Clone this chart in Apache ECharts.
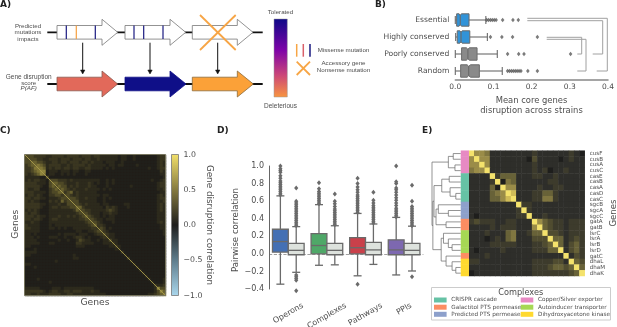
<!DOCTYPE html>
<html><head><meta charset="utf-8">
<style>html,body{margin:0;padding:0;background:#fff}#c{width:617px;height:327px}</style>
<script src="https://cdn.jsdelivr.net/npm/echarts@6/dist/echarts.min.js"></script>
</head><body><div id="c"></div>
<script>
const DJ='"DejaVu Sans"', LS='"Liberation Sans"', TXT='#4d4d4d', LINE='#6a6a6a';

// Panel B
const bCategories=['Essential','Highly conserved','Poorly conserved','Random'];
const bLow=[0,0.001,0,0];
const bQ1=[0.0035,0.005,0.0165,0.014];
const bNotchLo=[0.01,0.012,0.029,0.031];
const bMedian=[0.013,0.015,0.033,0.035];
const bNotchHi=[0.016,0.018,0.037,0.04];
const bQ3=[0.036,0.038,0.057,0.063];
const bHigh=[0.08,0.084,0.11,0.123];
const bColors=['#3193d8','#3193d8','#8a8a8a','#8a8a8a'];
const bFliers=[
 [0.082,0.087,0.092,0.097,0.102,0.107,0.124,0.151,0.165],
 [0.092,0.122,0.15,0.215],
 [0.137,0.166,0.18,0.302],
 [0.137,0.142,0.147,0.152,0.157,0.162,0.167,0.172,0.19,0.215]];

// Panel C, digits are correlation levels (upper triangle)
const cRows=[
"4443333223 3332333323 3323322222 2122112111 1111233",
".444332233 3233323332 3322322222 2122112111 1111233",
"..55443223 3233233323 3232221222 1121111111 1111232",
"...5654233 3322323333 2322222122 1221111211 1111232",
"....665232 3323323322 3322221212 1111111111 1211233",
".....77122 2122212211 2211111111 1111111111 1111132",
"......6122 1121212111 2111111111 1111111111 1111122",
".......411 1111111111 1111111111 1111111111 1111112",
"........44 4333232222 2222211212 1111111111 1121123",
".........5 5443222322 2321211212 1111111111 1111233",
".......... 4544232322 2322111211 1111121111 1111233",
".......... .454323222 3222212121 1111111111 1111223",
".......... ..53452322 2222111111 1111111111 1111122",
".......... ...4432322 2222212211 1111111111 1111232",
".......... ....444322 3222112121 1111111111 1111233",
".......... .....44422 2222112111 1111111111 1111223",
".......... ......4432 3222212211 1112211111 1111232",
".......... .......553 2222221323 2111211111 1111232",
".......... ........44 3322222343 2111111111 1111232",
".......... .........4 4322212232 2111111111 1111222",
".......... .......... 5432212122 1111111111 1111222",
".......... .......... .443221222 1111111111 1111222",
".......... .......... ..44321112 1111111111 1111232",
".......... .......... ...5332111 1111111111 1111122",
".......... .......... ....343121 1111111111 1111122",
".......... .......... .....43211 1111111111 1111112",
".......... .......... ......4322 1111111111 1111112",
".......... .......... .......322 1111111111 1111111",
".......... .......... ........42 2111111111 1111111",
".......... .......... .........3 2111111111 1111111",
".......... .......... .......... 3211111111 1111111",
".......... .......... .......... .211111111 1111111",
".......... .......... .......... ..31111111 1111111",
".......... .......... .......... ...2111111 1111111",
".......... .......... .......... ....311111 1111111",
".......... .......... .......... .....21111 1111111",
".......... .......... .......... ......2111 1111111",
".......... .......... .......... .......211 1111111",
".......... .......... .......... ........21 1111111",
".......... .......... .......... .........2 1111111",
".......... .......... .......... .......... 2111111",
".......... .......... .......... .......... .211112",
".......... .......... .......... .......... ..21112",
".......... .......... .......... .......... ...3223",
".......... .......... .......... .......... ....744",
".......... .......... .......... .......... .....75",
".......... .......... .......... .......... ......6"];
const cDiagonal=[1,1];

// Panel D
const dCategories=['Operons','Complexes','Pathways','PPIs'];
const dColors=['#4470b4','#4fa868','#c9404a','#7d68b0','#dde2dd'];
const dColoredLow=[-0.345,-0.13,-0.25,-0.24];
const dColoredQ1=[0.02,0,0,-0.01];
const dColoredMed=[0.14,0.095,0.07,0.045];
const dColoredQ3=[0.28,0.23,0.185,0.16];
const dColoredHigh=[0.66,0.56,0.46,0.415];
const dGreyLow=[-0.21,-0.125,-0.12,-0.195];
const dGreyQ1=[-0.01,-0.01,-0.01,-0.01];
const dGreyMed=[0.04,0.04,0.045,0.04];
const dGreyQ3=[0.12,0.12,0.13,0.12];
const dGreyHigh=[0.31,0.32,0.34,0.315];
const dColoredFliers=[
 [0.67,0.69,0.71,0.73,0.75,0.77,0.79,0.81,0.83,0.86,0.89,0.93,0.95,0.97,1.0],
 [0.57,0.59,0.61,0.63,0.65,0.67,0.69,0.71,0.74,0.81],
 [0.47,0.49,0.51,0.53,0.55,0.57,0.59,0.61,0.63,0.65,0.67,0.7,0.73,0.76,0.8,0.86,-0.345],
 [0.42,0.44,0.46,0.48,0.5,0.52,0.55,0.58,0.61,0.64,0.67,0.7,0.73,0.75,0.8,0.82,1.0]];
const dGreyFliers=[
 [0.32,0.34,0.36,0.38,0.4,0.42,0.44,0.46,0.48,0.5,0.52,0.54,0.56,0.58,0.6,0.75,-0.24,-0.26,-0.28,-0.3,-0.42],
 [0.33,0.35,0.37,0.39,0.41,0.43,0.45,0.47,0.49,0.51,0.54,0.57,0.6,0.68],
 [0.35,0.37,0.39,0.41,0.43,0.45,0.47,0.49,0.51,0.53,0.55,0.58,0.61,0.7],
 [0.32,0.34,0.36,0.38,0.4,0.42,0.44,0.46,0.48,0.5,0.52,0.54,0.6,0.78,-0.26]];

// Panel E
const eGenes=['cusF','cusB','cusA','cusC','casE','casB','casA','casD','casC','sgcB','sgcA','sgcC','gatA','gatB','lsrC','lsrA','lsrB','lsrD','gatC','dhaL','dhaM','dhaK'];
const eRows=[
"9665111111112111111210",
".966111111103111101211",
"..96111111112111111111",
"...9111111112120112111",
"....924441112211211111",
".....90541111112211111",
"......9661111211221111",
".......981112244211111",
"........91112255211111",
".........9221111111111",
"..........921111111111",
"...........91121111111",
"............9643221222",
".............943221222",
"..............93321222",
"...............9441232",
"................941342",
".................91342",
"..................9132",
"...................943",
"....................94",
".....................9"];
const eComplex=[3,3,3,3,0,0,0,0,0,2,2,2,1,1,4,4,4,4,1,5,5,5];
const eComplexNames=['CRISPR cascade','Galactitol PTS permease','Predicted PTS permease','Copper/Silver exporter','Autoinducer transporter','Dihydroxyacetone kinase'];
const eComplexColors=['#66c2a5','#fc8d62','#8da0cb','#e78ac3','#a6d854','#ffd92f'];
const eMerges=[[0,1,.26],[2,3,.2],[22,23,.43],[4,5,.4],[7,8,.17],[6,26,.37],[25,27,.66],[10,11,.43],[9,29,.78],[12,13,.51],[30,31,.86],[28,32,.93],[16,17,.3],[15,34,.43],[14,35,.6],[20,21,.17],[19,37,.3],[18,38,.51],[36,39,.68],[33,40,.97],[24,41,1]];

const fix=v=>v.toFixed(1).replace('-','\u2212');

// build data
const parseUpper=rows=>{
  const m=rows.map(r=>r.replace(/ /g,''));const out=[];const n=m.length;
  for(let i=0;i<n;i++)for(let j=0;j<n;j++){
    const a=Math.min(i,j),b=Math.max(i,j);out.push([j,i,+m[a][b]]);
  }return out;};
const cData=parseUpper(cRows), eData=parseUpper(eRows);
const cIdx=cRows.map((_,i)=>String(i));
const bBoxData=bCategories.map((_,i)=>[i,bLow[i],bQ1[i],bNotchLo[i],bMedian[i],bNotchHi[i],bQ3[i],bHigh[i]]);
const bFlierData=[];bFliers.forEach((a,i)=>a.forEach(v=>bFlierData.push([v,i])));
const dBoxData=[];dCategories.forEach((_,i)=>{
  dBoxData.push([i,0,dColoredLow[i],dColoredQ1[i],dColoredMed[i],dColoredQ3[i],dColoredHigh[i]]);
  dBoxData.push([i,1,dGreyLow[i],dGreyQ1[i],dGreyMed[i],dGreyQ3[i],dGreyHigh[i]]);
});
const dFlierData=[];
dColoredFliers.forEach((a,i)=>a.forEach(v=>dFlierData.push([i,0,v])));
dGreyFliers.forEach((a,i)=>a.forEach(v=>dFlierData.push([i,1,v])));
const dNodes=eGenes.map((_,i)=>({y:i+.5,h:0}));
const dLinks=eMerges.map(([a,b,h])=>{
  const A=dNodes[a],B=dNodes[b];dNodes.push({y:(A.y+B.y)/2,h});
  return [A.h,A.y,h,B.y,B.h];
});

const hideCat=(gi,data,extra)=>Object.assign({type:'category',gridIndex:gi,data,show:false},extra||{});
const lineStyle={stroke:LINE,lineWidth:1.1};
const measure=document.createElement('canvas').getContext('2d');

// Panel A schematic helpers
const gfx=[];
const poly=(pts,fill,stroke,lw)=>gfx.push({type:'polygon',shape:{points:pts},style:{fill,stroke,lineWidth:lw||1}});
const seg=(x1,y1,x2,y2,stroke,lw)=>gfx.push({type:'line',shape:{x1,y1,x2,y2},style:{stroke,lineWidth:lw||1}});
const txt=(text,x,y,size,opt)=>gfx.push(Object.assign({type:'text',x,y,rotation:(opt&&opt.rot)||0,style:{text,x:0,y:0,font:((opt&&opt.font)||(size+'px '+DJ)),fill:(opt&&opt.fill)||TXT,align:(opt&&opt.align)||'center',verticalAlign:'middle'}},{z:50}));
const arrow=(x0,xb,x1,cy,fill,stroke)=>poly([[x0,cy-6.8],[xb,cy-6.8],[xb,cy-13],[x1,cy],[xb,cy+13],[xb,cy+6.8],[x0,cy+6.8]],fill,stroke,.8);
seg(47.3,32.3,262.7,32.3,'#111',1.8);
seg(47.3,84,262.7,84,'#111',1.8);
const starts=[57,125,192.3];
starts.forEach(s=>arrow(s,s+45,s+60.7,32.3,'#fff','#777'));
[[66.3,'#1a1a80'],[76.3,'#f5a040'],[95.3,'#1a1a80'],[134,'#1a1a80'],[143.7,'#1a1a80'],[163,'#1a1a80']].forEach(t=>seg(t[0],25.6,t[0],39,t[1],1.2));
seg(200,15,235.7,50,'#f7a545',1.8);seg(235.7,15,200,50,'#f7a545',1.8);
[82.7,150,217.7].forEach(x=>{seg(x,42.7,x,71,'#111',1);poly([[x-2.2,70],[x+2.2,70],[x,74]],'#111','#111',.5);});
arrow(57,102,117.7,84,'#e2695a','#8a5a50');
arrow(125,170,186,84,'#0f0f88','#0f0f88');
arrow(192.3,237.3,253.3,84,'#fba138','#8a6a3a');
gfx.push({type:'rect',shape:{x:274,y:19,width:13.3,height:78},style:{stroke:'#999',lineWidth:.5,fill:{type:'linear',x:0,y:0,x2:0,y2:1,colorStops:[{offset:0,color:'#0d0887'},{offset:.4,color:'#7e03a8'},{offset:.72,color:'#cc4778'},{offset:1,color:'#f89540'}]}}});
const AF='6.2px '+LS;
txt('Tolerated',280.5,12.7,6,{font:AF});txt('Deleterious',280.5,106.3,6,{font:'6.5px '+LS});
txt('Predicted',28,26.3,6,{font:AF});txt('mutations',28,32.6,6,{font:AF});txt('impacts',28,38.8,6,{font:AF});
txt('Gene disruption',28.7,77.3,6,{font:'6.5px '+LS});txt('score',28.7,82.8,6,{font:AF});txt('P(AF)',28.7,88.2,6,{font:'italic '+AF});
[[296.7,'#f7a545'],[303.3,'#d9606a'],[310,'#1a1a80']].forEach(t=>seg(t[0],44,t[0],56.7,t[1],1.5));
seg(296.7,61.7,310,75,'#f7a545',1.8);seg(310,61.7,296.7,75,'#f7a545',1.8);
const AL='6.2px '+LS;
txt('Missense mutation',317.7,50.3,6,{font:AL,align:'left'});
txt('Accessory gene',343.5,63.7,6,{font:AL});txt('Nonsense mutation',343.5,69.8,6,{font:AL});
// panel letters
const PL='bold 9px '+DJ;
txt('A)',0,4.5,8,{font:PL,align:'left',fill:'#222'});txt('B)',375,4.5,8,{font:PL,align:'left',fill:'#222'});
txt('C)',0,131,8,{font:PL,align:'left',fill:'#222'});txt('D)',217,131,8,{font:PL,align:'left',fill:'#222'});txt('E)',422,131,8,{font:PL,align:'left',fill:'#222'});
// B brackets and title
[[[527.3,18.3],[607.3,18.3],[607.3,71],[596.7,71]],[[527.3,20.7],[602.7,20.7],[602.7,54],[592.7,54]],
 [[546.7,37.3],[581.7,37.3],[581.7,54],[577.3,54]],[[546.7,39.3],[586,39.3],[586,71],[577.3,71]]].forEach(p=>gfx.push({type:'polyline',shape:{points:p},style:{stroke:'#a0a0a0',lineWidth:1,fill:'none'}}));
txt('Mean core genes',531.5,101,8.4);txt('disruption across strains',531.5,111.3,8.4);
// C labels
txt('Genes',95,303,9.2);txt('Genes',15.7,224.3,9.2,{rot:Math.PI/2});
txt('Gene disruption correlation',209.7,225,8.8,{rot:-Math.PI/2});
gfx.push({type:'rect',z:60,shape:{x:24.5,y:154.5,width:141,height:141},style:{fill:'none',stroke:'#77755f',lineWidth:1}});
gfx.push({type:'rect',z:60,shape:{x:171.5,y:154.5,width:7,height:141},style:{fill:'none',stroke:'#777',lineWidth:.8}});
// D label
txt('Pairwise correlation',235.7,230,8.6,{rot:Math.PI/2});
// E labels and legend
txt('Genes',614,213,8.6,{rot:Math.PI/2});
gfx.push({type:'rect',shape:{x:431.5,y:287.5,width:179,height:32.5},style:{fill:'#fff',stroke:'#ccc',lineWidth:1}});
txt('Complexes',520.7,292.7,8.2);
const rowY=[300,307.2,314.3];
eComplexNames.forEach((n,i)=>{
  const col=i<3?0:1,r=i%3,sx=col?520.7:434,tx=col?538:451.3;
  gfx.push({type:'rect',shape:{x:sx,y:rowY[r]-2.5,width:12.6,height:5},style:{fill:eComplexColors[i]}});
  txt(n,tx,rowY[r],5.7,{align:'left'});
});

const option={
 animation:false,backgroundColor:'#fff',textStyle:{fontFamily:DJ},
 grid:[
  {left:455.3,width:152.7,top:11.5,height:68},
  {left:25,width:141,top:155,height:141},
  {left:171.5,width:7,top:154.5,height:141},
  {left:269,width:154.4,top:166,height:123},
  {left:469,width:115.7,top:150.7,height:125.3},
  {left:461,width:7.7,top:150.7,height:125.3},
  {left:432,width:28.7,top:150.7,height:125.3}
 ],
 xAxis:[
  {type:'value',gridIndex:0,min:0,max:0.4,interval:0.1,axisLine:{show:true,lineStyle:{color:'#888',width:1.5}},axisTick:{show:false},splitLine:{show:false},axisLabel:{color:TXT,fontSize:7.5,margin:4,formatter:fix,showMinLabel:true,showMaxLabel:true}},
  hideCat(1,cIdx),
  hideCat(2,['c']),
  {type:'category',gridIndex:3,data:dCategories,axisLine:{show:false},axisTick:{show:false},axisLabel:{show:false}},
  hideCat(4,eGenes),
  hideCat(5,['c']),
  {type:'value',gridIndex:6,min:0,max:1,inverse:true,show:false}
 ],
 yAxis:[
  {type:'category',gridIndex:0,data:bCategories,inverse:true,axisLine:{show:false},axisTick:{show:false},axisLabel:{color:TXT,fontSize:7.6,margin:6,interval:0}},
  hideCat(1,cIdx,{inverse:true}),
  {type:'value',gridIndex:2,min:-1,max:1,interval:0.5,position:'right',axisLine:{show:false},axisTick:{show:false},splitLine:{show:false},axisLabel:{color:TXT,fontSize:7.8,margin:5,formatter:fix}},
  {type:'value',gridIndex:3,min:-0.4,max:1,interval:0.2,axisLine:{show:true,lineStyle:{color:'#666',width:1}},axisTick:{show:false},splitLine:{show:false},axisLabel:{color:TXT,fontSize:8,margin:5,formatter:fix}},
  {type:'category',gridIndex:4,data:eGenes,inverse:true,position:'right',axisLine:{show:false},axisTick:{show:false},axisLabel:{color:TXT,fontSize:5.6,margin:5,interval:0}},
  hideCat(5,eGenes,{inverse:true}),
  {type:'value',gridIndex:6,min:0,max:22,inverse:true,show:false}
 ],
 visualMap:[
  {show:false,type:'continuous',seriesIndex:2,dimension:2,min:0,max:8,inRange:{color:['#1a1916','#201f1a','#2c2a1c','#3a3620','#4e4826','#68602e','#807536','#8f843c','#b8a84a']}},
  {show:false,type:'continuous',seriesIndex:6,dimension:2,min:0,max:9,inRange:{color:['#1e1e1c','#2e2e2a','#3d3b2c','#504c30','#686238','#807640','#9a8c48','#b5a550','#d0bc58','#f4e26c']}}
 ],
 series:[
  {type:'custom',xAxisIndex:0,yAxisIndex:0,data:bBoxData,encode:{x:[1,7],y:0},clip:false,renderItem(p,api){
    const c=api.value(0),X=v=>api.coord([v,c])[0],cy=api.coord([0,c])[1],h=6.2,ins=1.5;
    const lo=X(api.value(1)),q1=X(api.value(2)),n1=X(api.value(3)),m=X(api.value(4)),n2=X(api.value(5)),q3=X(api.value(6)),hi=X(api.value(7));
    const L=(a,b,c2,d)=>({type:'line',shape:{x1:a,y1:b,x2:c2,y2:d},style:lineStyle});
    return {type:'group',children:[
      L(lo,cy,q1,cy),L(q3,cy,hi,cy),L(lo,cy-4,lo,cy+4),L(hi,cy-4,hi,cy+4),
      {type:'polygon',shape:{points:[[q1,cy-h],[n1,cy-h],[m,cy-h+ins],[n2,cy-h],[q3,cy-h],[q3,cy+h],[n2,cy+h],[m,cy+h-ins],[n1,cy+h],[q1,cy+h]]},style:{fill:bColors[c],stroke:LINE,lineWidth:1}},
      L(m,cy-h+ins,m,cy+h-ins)
    ]};
  }},
  {type:'scatter',xAxisIndex:0,yAxisIndex:0,data:bFlierData,symbol:'diamond',symbolSize:[3.6,4.4],itemStyle:{color:'#5a5a5a'},silent:true},
  {type:'heatmap',xAxisIndex:1,yAxisIndex:1,data:cData},
  {type:'custom',xAxisIndex:2,yAxisIndex:2,data:[[0,-1,1]],encode:{x:0,y:[1,2]},renderItem(p,api){
    const a=api.coord([0,1]),b=api.coord([0,-1]),r=p.coordSys;
    return {type:'rect',shape:{x:r.x,y:a[1],width:r.width,height:b[1]-a[1]},style:{fill:{type:'linear',x:0,y:0,x2:0,y2:1,colorStops:[{offset:0,color:'#f2e06a'},{offset:.25,color:'#857a40'},{offset:.5,color:'#1e1e1c'},{offset:.75,color:'#5f7d8c'},{offset:1,color:'#a9d6ec'}]}}};
  }},
  {type:'custom',xAxisIndex:3,yAxisIndex:3,data:dBoxData,encode:{x:0,y:[2,6]},clip:false,renderItem(p,api){
    const c=api.value(0),s=api.value(1),bw=api.size([1,0])[0],w=bw*.41,off=(s?1:-1)*w/2;
    const x=api.coord([c,0])[0]+off,Y=v=>api.coord([c,v])[1];
    const lo=Y(api.value(2)),q1=Y(api.value(3)),m=Y(api.value(4)),q3=Y(api.value(5)),hi=Y(api.value(6));
    const ls={stroke:LINE,lineWidth:1.3};
    const L=(a,b,c2,d)=>({type:'line',shape:{x1:a,y1:b,x2:c2,y2:d},style:ls});
    return {type:'group',children:[
      L(x,hi,x,lo),L(x-4,hi,x+4,hi),L(x-4,lo,x+4,lo),
      {type:'rect',shape:{x:x-w/2,y:q3,width:w,height:q1-q3},style:{fill:s?dColors[4]:dColors[c],stroke:LINE,lineWidth:1.3}},
      L(x-w/2,m,x+w/2,m)
    ]};
  },markLine:{silent:true,symbol:'none',label:{show:false},lineStyle:{color:'#888',type:'dashed',width:.8},data:[{yAxis:0}],z:0}},
  {type:'custom',xAxisIndex:3,yAxisIndex:3,data:dFlierData,encode:{x:0,y:2},clip:false,renderItem(p,api){
    const c=api.value(0),s=api.value(1),w=api.size([1,0])[0]*.41,off=(s?1:-1)*w/2;
    const q=api.coord([c,api.value(2)]),x=q[0]+off,y=q[1];
    return {type:'polygon',shape:{points:[[x-2.1,y],[x,y-2.5],[x+2.1,y],[x,y+2.5]]},style:{fill:'#6a6a6a'}};
  }},
  {type:'heatmap',xAxisIndex:4,yAxisIndex:4,data:eData},
  {type:'heatmap',xAxisIndex:5,yAxisIndex:5,data:eComplex.map((k,i)=>({value:[0,i,k],itemStyle:{color:eComplexColors[k]}}))},
  {type:'custom',xAxisIndex:6,yAxisIndex:6,data:dLinks,encode:{x:[0,2],y:[1,3]},clip:false,renderItem(p,api){
    const h=api.value(2),ya=api.value(1),yb=api.value(3);
    return {type:'polyline',shape:{points:[api.coord([api.value(0),ya]),api.coord([h,ya]),api.coord([h,yb]),api.coord([api.value(4),yb])]},style:{stroke:'#666',lineWidth:.7,fill:'none'}};
  }},
  // thin self-correlation diagonal of panel C
  {type:'custom',xAxisIndex:1,yAxisIndex:1,data:cDiagonal.map((v,i)=>[i,v]),encode:{x:0},clip:false,z:5,renderItem(p,api){
    if(api.value(0)!==0)return null;
    const r=p.coordSys;
    return {type:'line',shape:{x1:r.x,y1:r.y,x2:r.x+r.width,y2:r.y+r.height},style:{stroke:'#a79a4c',lineWidth:.9}};
  }},
  // rotated category labels of panel D, top-aligned like the reference
  {type:'custom',xAxisIndex:3,yAxisIndex:3,data:dCategories.map((_,i)=>[i]),encode:{x:0},clip:false,renderItem(p,api){
    const i=api.value(0),font='8px '+DJ,name=dCategories[i];
    measure.font=font;const w=measure.measureText(name).width;
    const r=p.coordSys,x=api.coord([i,0])[0],y=r.y+r.height+16+w*0.25;
    return {type:'text',x,y,rotation:Math.PI/6,style:{text:name,x:0,y:0,font,fill:TXT,align:'center',verticalAlign:'middle'}};
  }}
 ],
 graphic:gfx
};
const chart=echarts.init(document.getElementById('c'),null,{renderer:'canvas'});
chart.setOption(option);
</script></body></html>
